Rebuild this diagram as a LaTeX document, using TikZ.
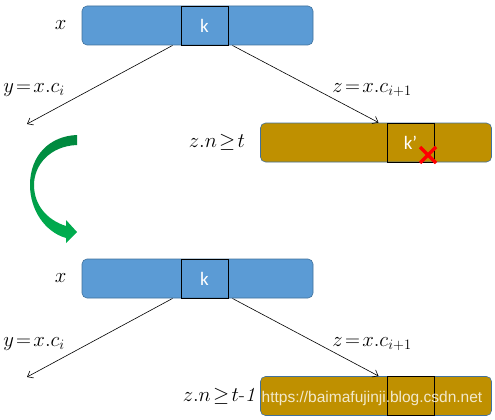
\documentclass[tikz,border=0pt]{standalone}
\usepackage{fontspec}
\setsansfont{Carlito}
\newfontfamily\markfont{Liberation Sans}
\usetikzlibrary{arrows.meta,positioning}
\definecolor{NodeBlue}{HTML}{5B9BD5}
\definecolor{NodeGold}{HTML}{BF9000}
\definecolor{NodeEdge}{HTML}{41719C}
\definecolor{TurnDark}{HTML}{00873E}
\definecolor{TurnLight}{HTML}{00B050}
\definecolor{CrossRed}{HTML}{FF0000}

\tikzset{
  bar/.style={draw=NodeEdge, line width=0.6pt, rounded corners=5pt,
    minimum width=231pt, minimum height=39pt, inner sep=0pt},
  keybox/.style={draw=black, line width=0.9pt, minimum width=47pt,
    minimum height=39pt, inner sep=0pt, text=white,
    font=\sffamily\fontsize{19}{22}\selectfont},
  lab/.style={font=\fontsize{20}{24}\selectfont, inner sep=0pt},
  link/.style={-{Straight Barb[length=5pt,width=8pt]}, line width=0.6pt},
}

\begin{document}
\begin{tikzpicture}[x=1pt,y=-1pt]
    \useasboundingbox (0,0) rectangle (495,420);
    % before the split
    \node[bar, fill=NodeBlue] (xtop) at (197.5,25.5) {};
    \node[keybox] (ktop) at (204.5,25.5) {k};
    \node[lab, left=15pt of xtop] (xname) {$x$};
    \node[bar, fill=NodeGold] (ztop) at (376,142.5) {};
    \node[keybox] (kup) at (410.5,142.5) {k\char"27};
    \node[lab, left=15pt of ztop] (zsize) {$z.n\!\geq\! t$};
    \coordinate (ytop) at (27,124);
    \draw[link] ([xshift=-8pt]ktop.south west) -- (ytop);
    \draw[link] ([xshift=4pt]ktop.south east) -- ([xshift=-8pt]kup.north west);
    \node[lab] (yc) at (34,90) {$y\!=\!x.c_i$};
    \node[lab] (zc) at (372,90) {$z\!=\!x.c_{i+1}$};
    \coordinate (cross) at (428,155);
    \draw[CrossRed, line width=3.5pt]
      ([shift={(-8,-8)}]cross) -- ([shift={(8,8)}]cross)
      ([shift={(-8,8)}]cross) -- ([shift={(8,-8)}]cross);

    % turn
    \shade[top color=TurnDark, bottom color=TurnLight]
      (77,135) .. controls (50,136) and (30,155) .. (30,185)
      .. controls (30,210) and (45,232) .. (66,238)
      -- (66,243) -- (77,232) -- (66,220) -- (66,226)
      .. controls (47,220) and (34,205) .. (34,185)
      .. controls (34,165) and (50,146) .. (77,145) -- cycle;

    % after the split
    \node[bar, fill=NodeBlue] (xbot) at (197.5,278.5) {};
    \node[keybox] (kbot) at (204.5,278.5) {k};
    \node[lab, left=15pt of xbot] (xname2) {$x$};
    \node[bar, fill=NodeGold] (zbot) at (376,396) {};
    \node[keybox] (kdown) at (410.5,396) {};
    \node[lab, left=5pt of zbot] (zsize2) {$z.n\!\geq\! t$-$\mathit{1}$};
    \coordinate (ybot) at (27,377);
    \draw[link] ([xshift=-8pt]kbot.south west) -- (ybot);
    \draw[link] ([xshift=4pt]kbot.south east) -- ([xshift=-8pt]kdown.north west);
    \node[lab] (yc2) at (34,344) {$y\!=\!x.c_i$};
    \node[lab] (zc2) at (372,344) {$z\!=\!x.c_{i+1}$};
    \node[text=white, text opacity=0.8, font=\markfont\fontsize{15.5}{18}\selectfont]
      (mark) at (372,398) {https://baimafujinji.blog.csdn.net};
  \end{tikzpicture}
\end{document}
